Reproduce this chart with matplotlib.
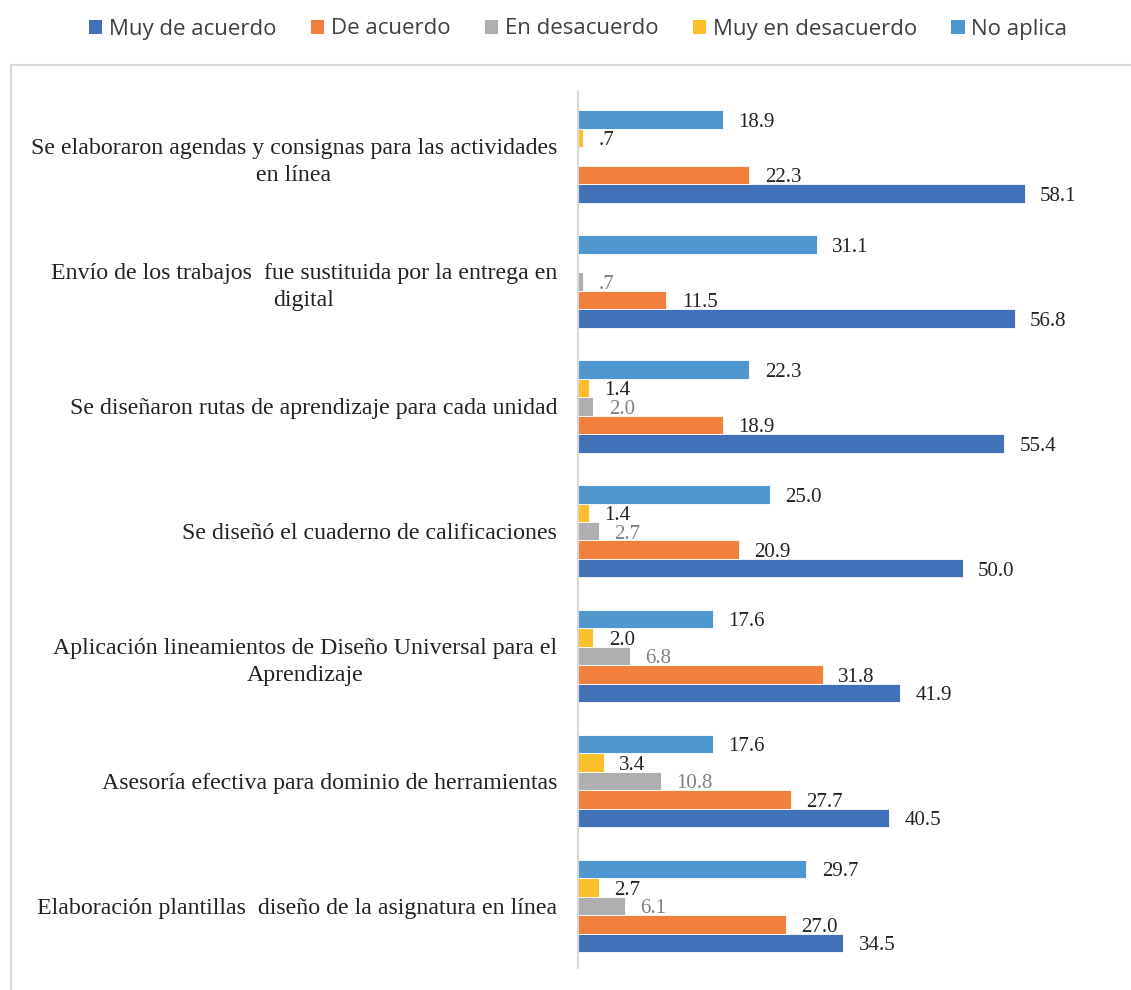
import numpy as np
import matplotlib
matplotlib.use('Agg')
import matplotlib.pyplot as plt
from matplotlib.patches import Rectangle, Patch

# categories top -> bottom
categories = [
    'Se elaboraron agendas y consignas para las actividades\nen línea',
    'Envío de los trabajos  fue sustituida por la entrega en\ndigital',
    'Se diseñaron rutas de aprendizaje para cada unidad',
    'Se diseñó el cuaderno de calificaciones',
    'Aplicación lineamientos de Diseño Universal para el\nAprendizaje',
    'Asesoría efectiva para dominio de herramientas',
    'Elaboración plantillas  diseño de la asignatura en línea',
]

series = ['Muy de acuerdo', 'De acuerdo', 'En desacuerdo', 'Muy en desacuerdo', 'No aplica']

muy_de_acuerdo = [58.1, 56.8, 55.4, 50.0, 41.9, 40.5, 34.5]
de_acuerdo = [22.3, 11.5, 18.9, 20.9, 31.8, 27.7, 27.0]
en_desacuerdo = [None, 0.7, 2.0, 2.7, 6.8, 10.8, 6.1]
muy_en_desacuerdo = [0.7, None, 1.4, 1.4, 2.0, 3.4, 2.7]
no_aplica = [18.9, 31.1, 22.3, 25.0, 17.6, 17.6, 29.7]

values = [muy_de_acuerdo, de_acuerdo, en_desacuerdo, muy_en_desacuerdo, no_aplica]
colors = ['#4171b8', '#f0803c', '#afafb2', '#fbbf2c', '#4f97d1']
label_colors = ['#222222', '#222222', '#808080', '#222222', '#222222']

W, H = 1131, 990
fig = plt.figure(figsize=(W / 100, H / 100), dpi=100)

# light frame around the plot area (only left/top visible)
fig.patches.append(Rectangle((11 / W, -0.1), 1.2, (990 - 65) / H + 0.1,
                             transform=fig.transFigure, fill=False,
                             edgecolor='#d9d9d9', lw=1.5))

ax = fig.add_axes([578 / W, 22 / H, (W - 578) / W, 876 / H])

n = len(categories)
centers = np.arange(n)[::-1]  # top category at highest y
h = 0.148

def fmt(v):
    s = f'{v:.1f}'
    if s.startswith('0'):
        s = s[1:]
    return s

for k, (vals, col, lc) in enumerate(zip(values, colors, label_colors)):
    offset = (k - 2) * h
    for i, v in enumerate(vals):
        if v is None:
            continue
        y = centers[i] + offset
        ax.barh(y, v, height=h, color=col, edgecolor='white', linewidth=0.6)
        ax.annotate(fmt(v), (v, y), xytext=(11, -2), textcoords='offset points',
                    ha='left', va='center', fontsize=15,
                    family='Liberation Serif', color=lc)

ax.set_xlim(0, (W - 578) / 7.69)
ax.set_ylim(-0.496, 6.516)
for s in ['top', 'right', 'bottom']:
    ax.spines[s].set_visible(False)
ax.spines['left'].set_color('#d9d9d9')
ax.spines['left'].set_linewidth(1.5)
ax.set_xticks([])
ax.set_yticks(centers)
ax.set_yticklabels(categories, fontsize=17.2, family='Liberation Serif',
                   color='#222222', multialignment='center', linespacing=1.4)
ax.tick_params(axis='y', length=0, pad=15)

handles = [Patch(facecolor=c, edgecolor='none') for c in colors]
fig.legend(handles, series, loc='center', bbox_to_anchor=(578 / W, 1 - 29 / H),
           ncol=5, frameon=False, handlelength=0.6, handleheight=0.6,
           handletextpad=0.3, columnspacing=1.55,
           prop={'family': 'Open Sans', 'size': 16, 'weight': 'medium'},
           labelcolor='#404040')

fig.savefig('out.png', dpi=100)
